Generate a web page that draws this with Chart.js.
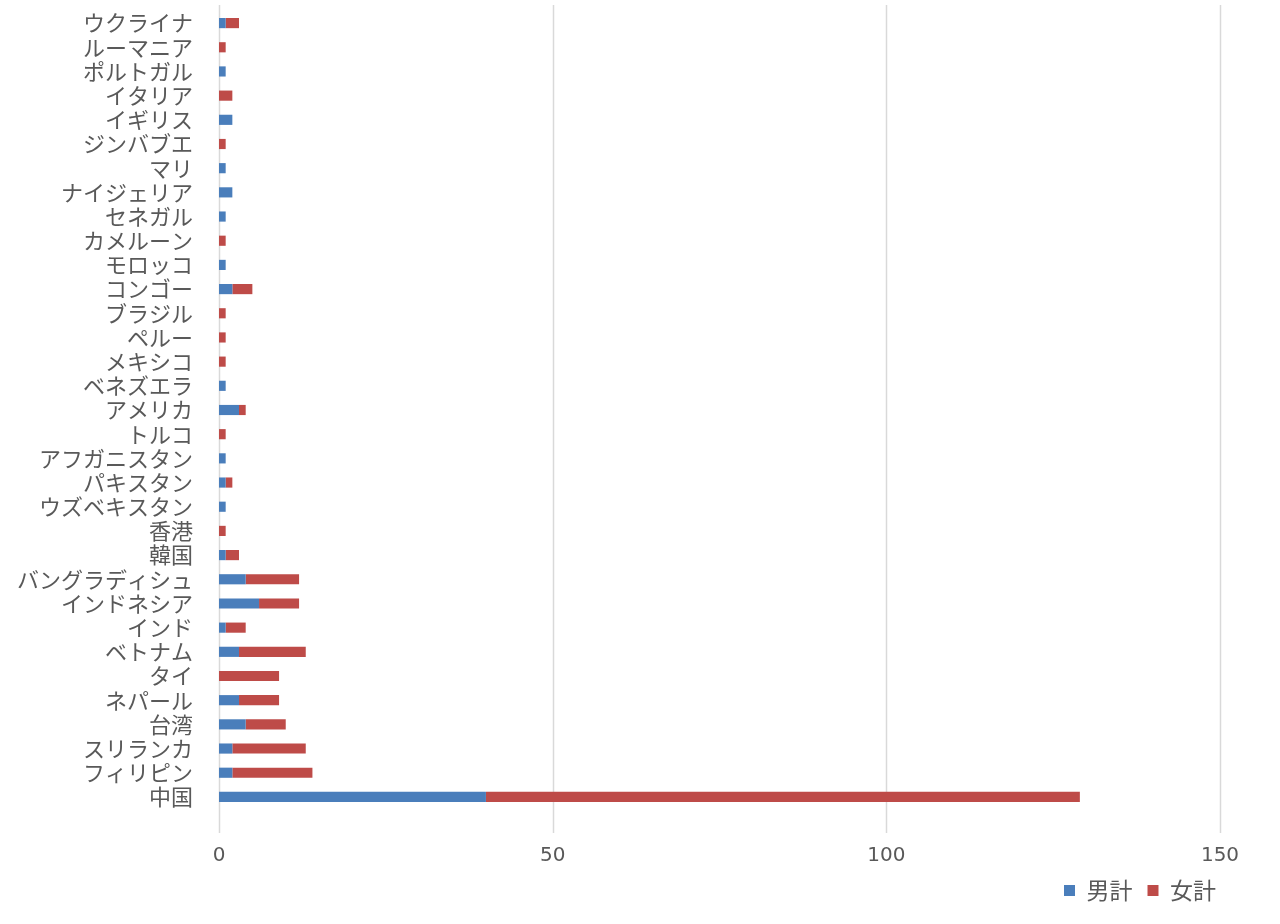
<!DOCTYPE html>
<html>
<head>
<meta charset="utf-8">
<script src="https://cdn.jsdelivr.net/npm/chart.js@4"></script>
<style>
  html, body { margin: 0; padding: 0; background: #ffffff; }
  #wrap { width: 1280px; height: 924px; position: relative; }
</style>
</head>
<body>
<div id="wrap"><canvas id="foreignChart"></canvas></div>
<script>
// categories listed top to bottom as they appear in the chart
const countries = [
    "ウクライナ", "ルーマニア", "ポルトガル", "イタリア", "イギリス", "ジンバブエ",
    "マリ", "ナイジェリア", "セネガル", "カメルーン", "モロッコ", "コンゴー",
    "ブラジル", "ペルー", "メキシコ", "ベネズエラ", "アメリカ", "トルコ",
    "アフガニスタン", "パキスタン", "ウズベキスタン", "香港", "韓国", "バングラディシュ",
    "インドネシア", "インド", "ベトナム", "タイ", "ネパール", "台湾",
    "スリランカ", "フィリピン", "中国",
];
const maleTotals = [
    1, 0, 1, 0, 2, 0,
    1, 2, 1, 0, 1, 2,
    0, 0, 0, 1, 3, 0,
    1, 1, 1, 0, 1, 4,
    6, 1, 3, 0, 3, 4,
    2, 2, 40,
];
const femaleTotals = [
    2, 1, 0, 2, 0, 1,
    0, 0, 0, 1, 0, 3,
    1, 1, 1, 0, 1, 1,
    0, 1, 0, 1, 2, 8,
    6, 3, 10, 9, 6, 6,
    11, 12, 89,
];
const seriesNames = ["男計", "女計"];
const xTicks = [0, 50, 100, 150];

const textColor = "#595959";
const gridColor = "#d9d9d9";

// vertical gridlines run a bit past the category band, like the original sheet
const longGrid = {
    id: "longGrid",
    beforeDatasetsDraw(chart) {
        const ctx = chart.ctx;
        const x = chart.scales.x;
        ctx.save();
        ctx.strokeStyle = gridColor;
        ctx.lineWidth = 1.5;
        xTicks.forEach((t) => {
            const px = Math.round(x.getPixelForValue(t)) + 0.5;
            ctx.beginPath();
            ctx.moveTo(px, 5);
            ctx.lineTo(px, 833);
            ctx.stroke();
        });
        ctx.restore();
    },
};

new Chart(document.getElementById("foreignChart"), {
    type: "bar",
    data: {
        labels: countries,
        datasets: [
            {
                label: seriesNames[0],
                data: maleTotals,
                backgroundColor: "#4a7ebb",
                categoryPercentage: 1,
                barPercentage: 0.42,
            },
            {
                label: seriesNames[1],
                data: femaleTotals,
                backgroundColor: "#be4b48",
                categoryPercentage: 1,
                barPercentage: 0.42,
            },
        ],
    },
    options: {
        indexAxis: "y",
        responsive: true,
        maintainAspectRatio: false,
        animation: false,
        layout: {
            padding: { top: 11, right: 49, bottom: 12, left: 0 },
        },
        scales: {
            x: {
                stacked: true,
                min: 0,
                max: 150,
                afterBuildTicks(scale) {
                    scale.ticks = xTicks.map((v) => ({ value: v }));
                },
                afterFit(scale) {
                    scale.height = 55;
                    scale.paddingRight = 60;
                },
                grid: { display: false },
                border: { display: false },
                ticks: {
                    color: textColor,
                    padding: 27,
                    font: { family: "DejaVu Sans", size: 20 },
                },
            },
            y: {
                stacked: true,
                afterFit(scale) {
                    scale.width = 219;
                    scale.paddingTop = 0;
                    scale.paddingBottom = 0;
                },
                grid: { display: false, drawTicks: false },
                border: { display: false },
                ticks: {
                    color: textColor,
                    padding: 26,
                    autoSkip: false,
                    font: { family: "Noto Sans CJK JP", size: 22 },
                },
            },
        },
        plugins: {
            legend: {
                position: "bottom",
                align: "end",
                labels: {
                    color: textColor,
                    boxWidth: 11,
                    boxHeight: 11,
                    padding: 15,
                    font: { family: "Noto Sans CJK JP", size: 23 },
                },
            },
            tooltip: { enabled: false },
        },
    },
    plugins: [longGrid],
});
</script>
</body>
</html>
